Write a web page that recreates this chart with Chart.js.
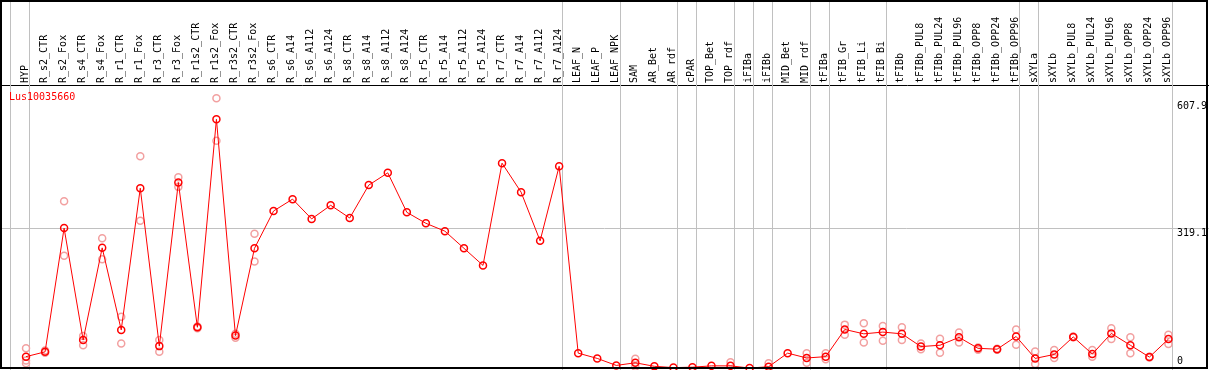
<!DOCTYPE html>
<html>
<head>
<meta charset="utf-8">
<script src="https://cdn.jsdelivr.net/npm/chart.js@4"></script>
<style>
html, body { margin: 0; padding: 0; background: #fff; }
</style>
</head>
<body>
<canvas id="exprChart" width="1209" height="370"></canvas>
<script>
// Expression profile of one gene over the sample series
const geneName = 'Lus10035660';

const sampleLabels = [
    'HYP',
    'R_s2_CTR', 'R_s2_Fox', 'R_s4_CTR', 'R_s4_Fox', 'R_r1_CTR', 'R_r1_Fox', 'R_r3_CTR', 'R_r3_Fox',
    'R_r1s2_CTR', 'R_r1s2_Fox', 'R_r3s2_CTR', 'R_r3s2_Fox',
    'R_s6_CTR', 'R_s6_A14', 'R_s6_A112', 'R_s6_A124', 'R_s8_CTR', 'R_s8_A14', 'R_s8_A112', 'R_s8_A124',
    'R_r5_CTR', 'R_r5_A14', 'R_r5_A112', 'R_r5_A124', 'R_r7_CTR', 'R_r7_A14', 'R_r7_A112', 'R_r7_A124',
    'LEAF_N', 'LEAF_P', 'LEAF_NPK', 'SAM', 'AR_Bet', 'AR_rdf', 'cPAR', 'TOP_Bet', 'TOP_rdf',
    'iFIBa', 'iFIBb', 'MID_Bet', 'MID_rdf', 'tFIBa', 'tFIB_Gr', 'tFIB_Li', 'tFIB_Bi', 'tFIBb',
    'tFIBb_PUL8', 'tFIBb_PUL24', 'tFIBb_PUL96', 'tFIBb_OPP8', 'tFIBb_OPP24', 'tFIBb_OPP96',
    'sXYLa', 'sXYLb', 'sXYLb_PUL8', 'sXYLb_PUL24', 'sXYLb_PUL96', 'sXYLb_OPP8', 'sXYLb_OPP24', 'sXYLb_OPP96'
];

// mean per sample (red line)
const meanValues = [
    27,
    38, 320, 65, 275, 88, 411, 51, 424,
    94, 568, 75, 274,
    359, 386, 341, 372, 343, 418, 446, 356,
    331, 313, 274, 235, 468, 402, 291, 461,
    35, 23, 7, 13, 5, 2, 3, 6, 6,
    1, 4, 35, 24, 27, 89, 79, 83, 79,
    50, 53, 71, 46, 44, 73,
    23, 32, 72, 33, 80, 53, 26, 67
];

// single replicates (light red circles), null where none shown
const rep1 = [
    46,
    36, 381, 74, 297, 118, 484, 65, 436,
    92, 616, 70, 307,
    null, null, null, null, null, null, null, null,
    null, null, null, null, null, null, null, null,
    null, null, null, 22, null, null, null, null, 14,
    null, 12, null, 35, 35, 100, 103, 97, 94,
    57, 68, 82, 48, 45, 89,
    39, 42, 73, 42, 92, 71, 27, 77
];
const rep2 = [
    18,
    41, 257, 53, 249, 57, 337, 38, 414,
    96, 519, 79, 244,
    null, null, null, null, null, null, null, null,
    null, null, null, null, null, null, null, null,
    null, null, null, 4, null, null, null, null, null,
    null, null, null, 13, 21, 77, 59, 63, 65,
    44, 36, 59, 43, 43, 54,
    10, 24, 71, 27, 67, 35, 25, 56
];
const rep3 = [12];

const yTickValues = [0, 319.1, 607.9];

// last sample index of each group, a grey rule is drawn after it
const groupEnds = [-1, 0, 28, 31, 34, 35, 37, 38, 39, 41, 42, 45, 52, 53, 60];

const monoFont = { family: "'DejaVu Sans Mono', monospace", size: 10 };

const toPoints = arr => arr.map((v, i) => ({ x: i, y: v })).filter(p => p.y !== null && p.y !== undefined);

// grey separators, outer frame and the gene name
const framePlugin = {
    id: 'frame',
    beforeDatasetsDraw(chart) {
        const { ctx, chartArea } = chart;
        const xs = chart.scales.x;
        ctx.save();
        ctx.strokeStyle = '#c0c0c0';
        ctx.lineWidth = 1;
        groupEnds.forEach(g => {
            const px = Math.round(xs.getPixelForValue(g + 0.17)) + 0.5;
            ctx.beginPath();
            ctx.moveTo(px, 0);
            ctx.lineTo(px, chartArea.bottom);
            ctx.stroke();
        });
        ctx.restore();
    },
    afterDraw(chart) {
        const { ctx, chartArea } = chart;
        ctx.save();
        ctx.fillStyle = '#ff0000';
        ctx.font = "10px 'DejaVu Sans Mono', monospace";
        ctx.textBaseline = 'middle';
        ctx.fillText(geneName, chartArea.left + 9, chartArea.top + 12);
        ctx.strokeStyle = '#000';
        ctx.lineWidth = 2;
        ctx.strokeRect(1, 1, 1206, 367);
        ctx.restore();
    }
};

const ctx = document.getElementById('exprChart').getContext('2d');
const exprChart = new Chart(ctx, {
    type: 'line',
    data: {
        datasets: [
            {
                data: toPoints(meanValues),
                borderColor: '#ff0000',
                borderWidth: 1,
                pointRadius: 3.5,
                pointBorderWidth: 1.5,
                pointBorderColor: '#ff0000',
                pointBackgroundColor: 'rgba(0,0,0,0)',
                tension: 0,
                order: 1
            },
            {
                type: 'scatter',
                data: toPoints(rep1).concat(toPoints(rep2), toPoints(rep3)),
                showLine: false,
                pointRadius: 3.5,
                pointBorderWidth: 1.5,
                pointBorderColor: '#f2a0a0',
                pointBackgroundColor: 'rgba(0,0,0,0)',
                order: 2
            }
        ]
    },
    options: {
        responsive: false,
        animation: false,
        layout: { padding: 0, autoPadding: false },
        plugins: { legend: { display: false }, tooltip: { enabled: false } },
        scales: {
            x: {
                type: 'linear',
                position: 'top',
                min: -1.367,
                max: 62.13,
                afterBuildTicks: s => { s.ticks = sampleLabels.map((_, i) => ({ value: i })); },
                afterFit: s => { s.height = 85; s.paddingLeft = 0; s.paddingRight = 0; },
                ticks: {
                    autoSkip: false,
                    minRotation: 90,
                    maxRotation: 90,
                    padding: 2,
                    labelOffset: 11,
                    font: monoFont,
                    color: '#000',
                    callback: v => sampleLabels[v]
                },
                grid: { display: false, drawTicks: false },
                border: { display: true, color: '#000', width: 1 }
            },
            y: {
                position: 'right',
                min: -3.42,
                max: 646.2,
                afterBuildTicks: s => { s.ticks = yTickValues.map(v => ({ value: v })); },
                afterFit: s => { s.width = 0; s.paddingTop = 0; s.paddingBottom = 0; },
                ticks: {
                    mirror: true,
                    crossAlign: 'far',
                    padding: -2,
                    labelOffset: 5,
                    font: monoFont,
                    color: '#000',
                    // the bottom label sits above the frame, so lift it by two empty lines
                    callback: v => v === 0 ? ['0', '', ''] : String(v)
                },
                grid: {
                    drawTicks: false,
                    color: c => (c.tick && c.tick.value === 319.1) ? '#c0c0c0' : 'rgba(0,0,0,0)'
                },
                border: { display: false }
            }
        }
    },
    plugins: [framePlugin]
});
</script>
</body>
</html>
